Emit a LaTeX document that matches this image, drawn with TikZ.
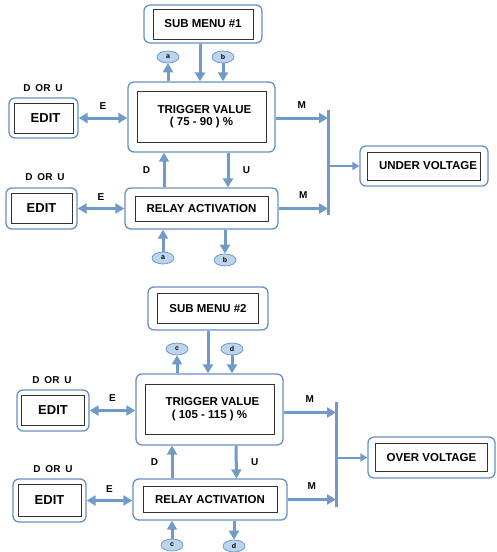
\documentclass[tikz,border=0pt]{standalone}
\usepackage{fontspec}
\setmainfont{Liberation Sans}
\usetikzlibrary{arrows.meta,positioning,shapes}
\definecolor{lineblue}{RGB}{112,155,200}
\definecolor{boxblue}{RGB}{100,145,195}
\definecolor{ovalfill}{RGB}{188,212,236}

\tikzset{
  outerbox/.style={draw=boxblue,rounded corners=6pt,line width=1.3pt,fill=white},
  innerbox/.style={draw=black!80,line width=0.6pt,align=center,font=\bfseries\fontsize{11.5}{12.5}\selectfont},
  oval/.style={ellipse,draw=boxblue,fill=ovalfill,line width=0.7pt,minimum width=22pt,minimum height=12pt,inner sep=0pt,text=black,font=\bfseries\fontsize{7}{7}\selectfont},
  flow/.style={-{Triangle[length=9pt,width=10pt]},lineblue,line width=3pt},
  both/.style={{Triangle[length=9pt,width=10pt]}-{Triangle[length=9pt,width=10pt]},lineblue,line width=3pt},
  thin/.style={-{Triangle[length=7pt,width=8pt]},lineblue,line width=2pt},
  tag/.style={text=black,font=\bfseries\fontsize{10}{11}\selectfont}
}

\begin{document}
\begin{tikzpicture}[x=1pt,y=-1pt]
  \useasboundingbox (0,0) rectangle (496,552);

  % ---- sub menu 1
  \node[outerbox,minimum width=118pt,minimum height=38pt] (sm1) at (203,24) {};
  \node[innerbox,minimum width=100pt,minimum height=30pt] (sm1i) at (sm1) {SUB MENU \#1};
  \node[outerbox,minimum width=147pt,minimum height=70pt] (tv1) at (201.5,117) {};
  \node[innerbox,minimum width=129pt,minimum height=51pt] (tv1i) at (tv1) {\raisebox{4pt}{\begin{tabular}{@{}c@{}}\hspace*{6pt}TRIGGER VALUE\\( 75 - 90 ) \%\end{tabular}}};
  \node[outerbox,minimum width=69pt,minimum height=40pt] (ed1) at (43.5,118) {};
  \node[innerbox,minimum width=59pt,minimum height=30pt,font=\bfseries\fontsize{13}{14}\selectfont] (ed1i) at (ed1) {\hspace*{4pt}EDIT};
  \node[outerbox,minimum width=153pt,minimum height=41pt] (ra1) at (201.5,208.5) {};
  \node[innerbox,minimum width=133pt,minimum height=25pt] (ra1i) at (ra1) {RELAY ACTIVATION};
  \node[outerbox,minimum width=71pt,minimum height=41pt] (ed2) at (41.5,208.5) {};
  \node[innerbox,minimum width=61pt,minimum height=30pt,font=\bfseries\fontsize{13}{14}\selectfont] (ed2i) at (ed2) {EDIT};
  \node[outerbox,minimum width=128pt,minimum height=40pt] (uv1) at (424,166) {};
  \node[innerbox,minimum width=112pt,minimum height=28pt] (uv1i) at (uv1) {\hspace*{8pt}UNDER VOLTAGE};

  \node[oval] (a1) at (168,57) {a};
  \node[oval] (b1) at (223,57) {b};
  \node[oval] (a2) at (163,258) {a};
  \node[oval] (b2) at (225,260) {b};

  \node[tag] (du1) at (43,88) {D\,\,\,OR\,\,\,U};
  \node[tag] (du2) at (45,177) {D\,\,\,OR\,\,\,U};

  \coordinate (bar1t) at (328,110);
  \coordinate (bar1b) at (328,215);
  \draw[lineblue,line width=3pt] (bar1t) -- (bar1b);

  \draw[flow] ([xshift=-3pt]sm1.south) -- ([xshift=-3pt]sm1.south |- tv1.north);
  \draw[flow] (tv1.north -| a1) -- (a1.south);
  \draw[flow] (b1.south) -- (b1 |- tv1.north);
  \draw[flow] ([xshift=26.5pt]tv1.south) -- node[tag,right=10pt] {U} ([xshift=26.5pt]ra1.north);
  \draw[flow] ([xshift=-37.5pt]ra1.north) -- node[tag,left=9pt] {D} ([xshift=-37.5pt]tv1.south);
  \draw[flow] (a2.north) -- (a2 |- ra1.south);
  \draw[flow] (ra1.south -| b2) -- (b2.north);
  \draw[both] (ed1.east) -- node[tag,above=4pt] {E} (tv1.west |- ed1.east);
  \draw[both] (ed2.east) -- node[tag,above=3pt] {E} (ra1.west |- ed2.east);
  \draw[flow] ([yshift=-1pt]tv1.east) -- node[tag,above=5pt] {M} ([yshift=-1pt]tv1.east -| bar1t);
  \draw[flow] (ra1.east) -- node[tag,above=5pt] {M} (ra1.east -| bar1t);
  \draw[thin] (bar1t |- uv1.west) -- (uv1.west);

  % ---- sub menu 2
  \node[outerbox,minimum width=120pt,minimum height=43pt] (sm2) at (208,308.5) {};
  \node[innerbox,minimum width=101pt,minimum height=30pt] (sm2i) at (sm2) {SUB MENU \#2};
  \node[outerbox,minimum width=147pt,minimum height=71pt] (tv2) at (209.5,409.5) {};
  \node[innerbox,minimum width=129pt,minimum height=50pt] (tv2i) at (tv2) {\raisebox{4pt}{\begin{tabular}{@{}c@{}}\hspace*{6pt}TRIGGER VALUE\\( 105 - 115 ) \%\end{tabular}}};
  \node[outerbox,minimum width=72pt,minimum height=41pt] (ed3) at (53,410.5) {};
  \node[innerbox,minimum width=63pt,minimum height=30pt,font=\bfseries\fontsize{13}{14}\selectfont] (ed3i) at (ed3) {EDIT};
  \node[outerbox,minimum width=154pt,minimum height=41pt] (ra2) at (210,499.5) {};
  \node[innerbox,minimum width=134pt,minimum height=26pt] (ra2i) at (ra2) {RELAY ACTIVATION};
  \node[outerbox,minimum width=73pt,minimum height=43pt] (ed4) at (49.5,500.5) {};
  \node[innerbox,minimum width=63pt,minimum height=32pt,font=\bfseries\fontsize{13}{14}\selectfont] (ed4i) at (ed4) {EDIT};
  \node[outerbox,minimum width=127pt,minimum height=41pt] (ov2) at (431.5,457.5) {};
  \node[innerbox,minimum width=112pt,minimum height=28pt] (ov2i) at (ov2) {OVER VOLTAGE};

  \node[oval] (c1) at (177,349) {c};
  \node[oval] (d1) at (232,349) {d};
  \node[oval] (c2) at (172,545) {c};
  \node[oval] (d2) at (234,546) {d};

  \node[tag] (du3) at (52,380) {D\,\,\,OR\,\,\,U};
  \node[tag] (du4) at (53,469) {D\,\,\,OR\,\,\,U};

  \coordinate (bar2t) at (336,402);
  \coordinate (bar2b) at (336,507);
  \draw[lineblue,line width=3pt] (bar2t) -- (bar2b);

  \draw[flow] (sm2.south) -- (sm2.south |- tv2.north);
  \draw[flow] (tv2.north -| c1) -- (c1.south);
  \draw[flow] (d1.south) -- (d1 |- tv2.north);
  \draw[flow] ([xshift=26.5pt]tv2.south) -- node[tag,right=10pt] {U} ([xshift=26.5pt]ra2.north);
  \draw[flow] (ra2.north -| c2) -- node[tag,left=9pt] {D} (tv2.south -| c2);
  \draw[flow] (c2.north) -- (c2 |- ra2.south);
  \draw[flow] (ra2.south -| d2) -- (d2.north);
  \draw[both] (ed3.east) -- node[tag,above=4pt] {E} (tv2.west |- ed3.east);
  \draw[both] (ed4.east) -- node[tag,above=3pt] {E} (ra2.west |- ed4.east);
  \draw[flow] ([yshift=-3pt]tv2.east) -- node[tag,above=5pt] {M} ([yshift=-3pt]tv2.east -| bar2t);
  \draw[flow] (ra2.east) -- node[tag,above=5pt] {M} (ra2.east -| bar2t);
  \draw[thin] (bar2t |- ov2.west) -- (ov2.west);
\end{tikzpicture}
\end{document}
